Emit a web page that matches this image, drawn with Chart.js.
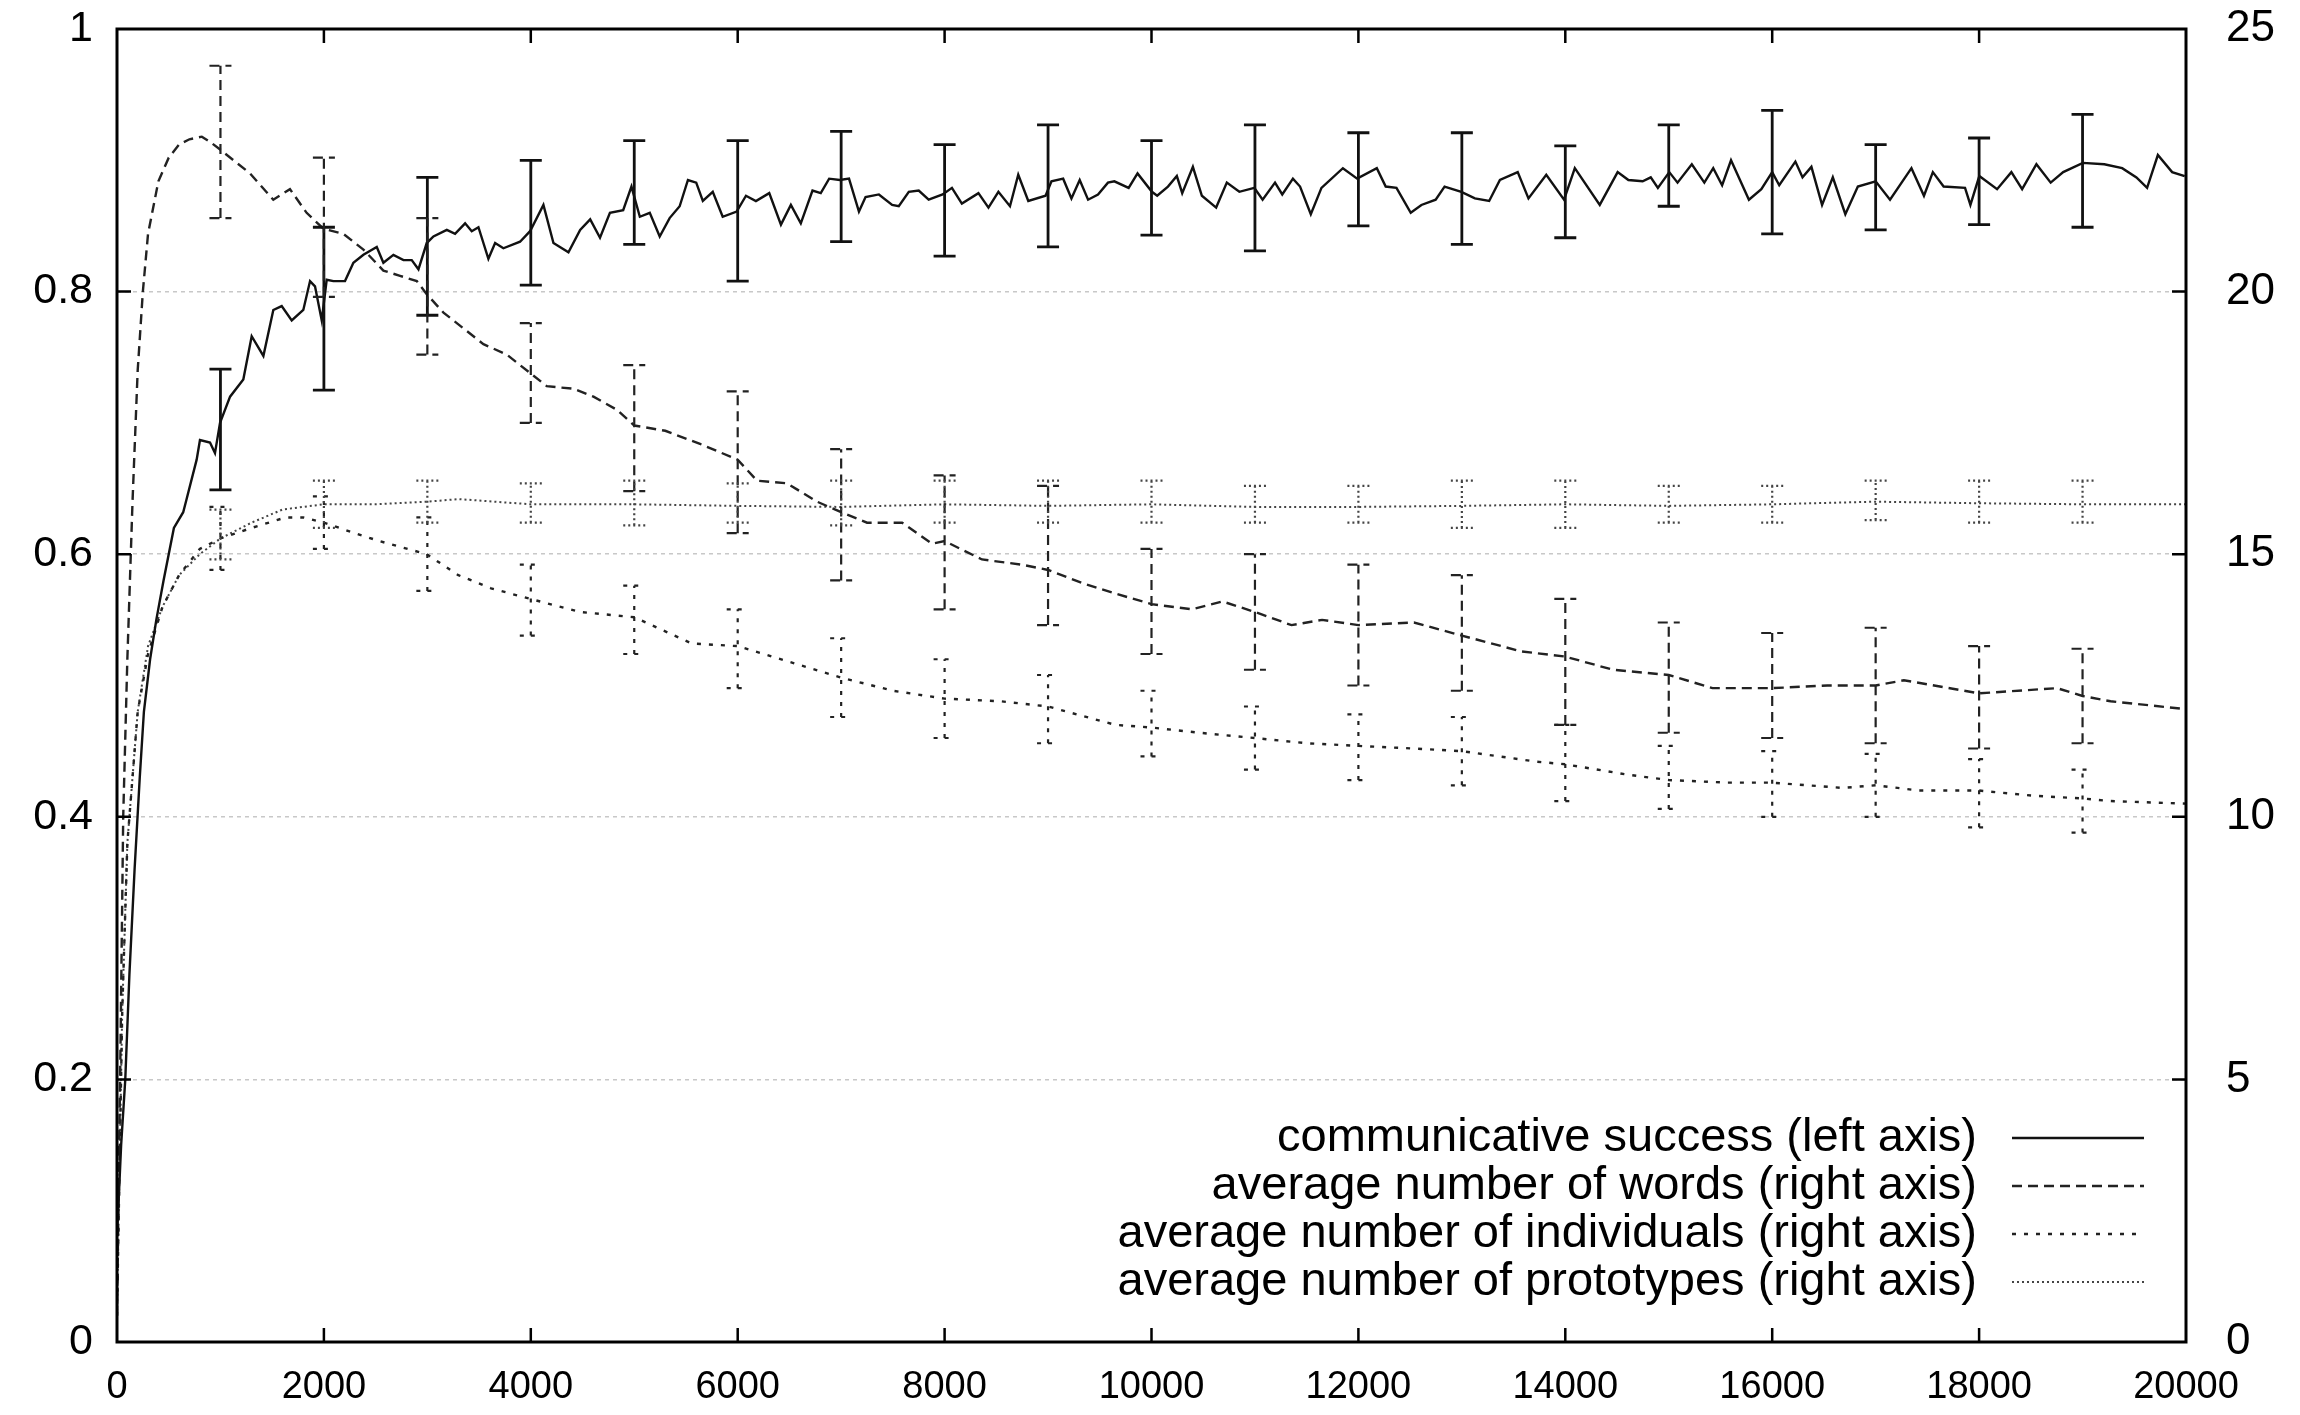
<!DOCTYPE html>
<html>
<head>
<meta charset="utf-8">
<script src="https://cdn.jsdelivr.net/npm/chart.js@4.4.1/dist/chart.umd.min.js"></script>
<style>
  html, body { margin: 0; padding: 0; background: #fff; }
  #wrap { width: 2300px; height: 1415px; position: relative; }
</style>
</head>
<body>
<div id="wrap"><canvas id="c"></canvas></div>
<script>
// ---------------- DATA ----------------
const xTickValues = [0, 2000, 4000, 6000, 8000, 10000, 12000, 14000, 16000, 18000, 20000];
const leftTickLabels = ['0', '0.2', '0.4', '0.6', '0.8', '1'];
const rightTickLabels = ['0', '5', '10', '15', '20', '25'];

const seriesNames = [
  'communicative success (left axis)',
  'average number of words (right axis)',
  'average number of individuals (right axis)',
  'average number of prototypes (right axis)'
];

// communicative success (left axis)
const successX = [0, 40, 80, 120, 170, 220, 260, 320, 380, 450, 550, 640, 673, 770, 802, 899, 947, 996, 1093, 1221,
  1302, 1415, 1511, 1592, 1689, 1801, 1866, 1914, 1979, 2027, 2092, 2204, 2285, 2382, 2511, 2575, 2672, 2769, 2849, 2914,
  2994, 3059, 3188, 3268, 3365, 3429, 3494, 3590, 3655, 3735, 3896, 3993, 4122, 4219, 4364, 4477, 4574, 4669, 4765, 4893,
  4973, 5054, 5150, 5246, 5342, 5439, 5519, 5599, 5663, 5759, 5855, 5990, 6080, 6176, 6305, 6418, 6514, 6610, 6723, 6803,
  6884, 6987, 7076, 7172, 7236, 7365, 7493, 7557, 7654, 7750, 7846, 7981, 8071, 8167, 8327, 8424, 8520, 8632, 8712, 8809,
  8976, 9033, 9146, 9226, 9306, 9387, 9483, 9579, 9641, 9779, 9865, 10004, 10055, 10159, 10245, 10297, 10400, 10487, 10625, 10728,
  10849, 10994, 11074, 11194, 11264, 11367, 11436, 11540, 11643, 11850, 11988, 12178, 12264, 12368, 12506, 12609, 12747, 12833, 12995, 13126,
  13264, 13368, 13540, 13644, 13816, 13988, 14092, 14333, 14506, 14610, 14748, 14826, 14895, 15005, 15085, 15223, 15344, 15430, 15516, 15602,
  15775, 15895, 16000, 16068, 16224, 16293, 16379, 16482, 16586, 16707, 16828, 17000, 17139, 17346, 17467, 17553, 17657, 17864, 17916, 18002,
  18174, 18312, 18416, 18554, 18692, 18813, 19003, 19210, 19383, 19521, 19624, 19728, 19866, 19987];
const successY = [0.08, 0.15, 0.20, 0.28, 0.36, 0.43, 0.48, 0.52, 0.55, 0.58, 0.62, 0.632, 0.642, 0.672, 0.687, 0.685, 0.677, 0.700, 0.720, 0.733,
  0.766, 0.751, 0.786, 0.789, 0.778, 0.786, 0.808, 0.804, 0.778, 0.809, 0.808, 0.808, 0.822, 0.828, 0.834, 0.822, 0.828, 0.824, 0.824, 0.817,
  0.837, 0.842, 0.847, 0.844, 0.852, 0.846, 0.849, 0.825, 0.837, 0.833, 0.838, 0.846, 0.866, 0.837, 0.830, 0.847, 0.855, 0.841, 0.860, 0.862,
  0.880, 0.857, 0.860, 0.842, 0.856, 0.865, 0.885, 0.883, 0.869, 0.876, 0.857, 0.861, 0.873, 0.869, 0.875, 0.851, 0.866, 0.852, 0.877, 0.875,
  0.886, 0.885, 0.886, 0.861, 0.872, 0.874, 0.866, 0.865, 0.876, 0.877, 0.870, 0.874, 0.879, 0.867, 0.875, 0.864, 0.876, 0.865, 0.889, 0.869,
  0.873, 0.884, 0.886, 0.871, 0.885, 0.870, 0.874, 0.883, 0.884, 0.879, 0.890, 0.876, 0.873, 0.880, 0.888, 0.875, 0.895, 0.873, 0.864, 0.883,
  0.876, 0.879, 0.870, 0.883, 0.874, 0.886, 0.880, 0.859, 0.879, 0.894, 0.886, 0.894, 0.880, 0.879, 0.860, 0.866, 0.870, 0.880, 0.876, 0.871,
  0.869, 0.885, 0.891, 0.871, 0.889, 0.870, 0.894, 0.866, 0.891, 0.885, 0.884, 0.887, 0.879, 0.891, 0.883, 0.897, 0.883, 0.894, 0.881, 0.900,
  0.870, 0.878, 0.891, 0.881, 0.899, 0.887, 0.895, 0.866, 0.887, 0.859, 0.880, 0.884, 0.870, 0.894, 0.873, 0.891, 0.880, 0.879, 0.866, 0.888,
  0.878, 0.891, 0.878, 0.897, 0.883, 0.891, 0.898, 0.897, 0.894, 0.887, 0.879, 0.904, 0.891, 0.888];

// average number of words (right axis)
const wordsX = [0, 30, 60, 100, 150, 200, 250, 300, 400, 500, 600, 700, 820, 900, 1000, 1286, 1511, 1672, 1833, 1994,
  2188, 2382, 2575, 2736, 2898, 2994, 3156, 3381, 3542, 3768, 3993, 4154, 4412, 4606, 4832, 5000, 5300, 5636, 6000, 6187,
  6477, 6767, 7000, 7250, 7589, 7879, 8000, 8361, 8750, 9000, 9330, 9650, 10000, 10391, 10687, 11000, 11353, 11649, 12000, 12537,
  13000, 13573, 14000, 14461, 15000, 15423, 16000, 16533, 17000, 17273, 18000, 18753, 19000, 19271, 20000];
const wordsY = [0.5, 5, 10, 13, 16, 18.5, 20, 21.1, 22.1, 22.55, 22.8, 22.9, 22.95, 22.85, 22.7, 22.25, 21.75, 21.95, 21.5, 21.2,
  21.1, 20.8, 20.4, 20.3, 20.2, 19.95, 19.6, 19.25, 19.0, 18.8, 18.45, 18.2, 18.15, 18.0, 17.75, 17.45, 17.35, 17.1, 16.8, 16.4,
  16.35, 16.0, 15.8, 15.6, 15.6, 15.2, 15.25, 14.9, 14.8, 14.7, 14.45, 14.25, 14.05, 13.95, 14.1, 13.9, 13.65, 13.75, 13.65, 13.7,
  13.45, 13.15, 13.05, 12.8, 12.7, 12.45, 12.45, 12.5, 12.5, 12.6, 12.35, 12.45, 12.3, 12.2, 12.05];

// average number of individuals (right axis)
const indivX = [0, 50, 100, 200, 300, 440, 600, 800, 1000, 1300, 1630, 1800, 2000, 2300, 2536, 2994, 3300, 3616, 3993, 4477,
  5000, 5556, 6000, 6500, 7000, 7500, 8000, 8541, 9000, 9651, 10000, 10465, 11000, 11501, 12000, 12537, 13000, 13721, 14000, 14609,
  15000, 15571, 16000, 16681, 17000, 17421, 18000, 18531, 19000, 19271, 20000];
const indivY = [0.5, 6.25, 9.5, 12, 13.1, 14, 14.6, 15.1, 15.3, 15.5, 15.7, 15.7, 15.6, 15.4, 15.25, 15.0, 14.6, 14.35, 14.15, 13.9,
  13.8, 13.3, 13.25, 12.95, 12.65, 12.4, 12.25, 12.2, 12.1, 11.75, 11.7, 11.6, 11.5, 11.4, 11.35, 11.3, 11.25, 11.05, 11.0, 10.8,
  10.7, 10.65, 10.65, 10.55, 10.6, 10.5, 10.5, 10.4, 10.35, 10.3, 10.25];

// average number of prototypes (right axis)
const protoX = [0, 50, 100, 200, 300, 440, 600, 800, 1000, 1300, 1600, 2000, 2500, 3000, 3300, 4000, 5000, 6000, 7000, 8000,
  9000, 10000, 11000, 12000, 13000, 14000, 15000, 16000, 17000, 18000, 19000, 20000];
const protoY = [0.5, 6.25, 9.5, 12, 13.25, 14, 14.6, 15.0, 15.3, 15.6, 15.85, 15.95, 15.95, 16.0, 16.05, 15.95, 15.95, 15.92, 15.9, 15.95,
  15.92, 15.95, 15.9, 15.9, 15.92, 15.95, 15.92, 15.95, 16.0, 15.97, 15.95, 15.95];

// error bars (shared x positions)
const errX = [1000, 2000, 3000, 4000, 5000, 6000, 7000, 8000, 9000, 10000, 11000, 12000, 13000, 14000, 15000, 16000, 17000, 18000, 19000];
const successLo = [0.649, 0.725, 0.782, 0.805, 0.836, 0.808, 0.838, 0.827, 0.834, 0.843, 0.831, 0.850, 0.836, 0.841, 0.865, 0.844, 0.847, 0.851, 0.849];
const successHi = [0.741, 0.849, 0.887, 0.900, 0.915, 0.915, 0.922, 0.912, 0.927, 0.915, 0.927, 0.921, 0.921, 0.911, 0.927, 0.938, 0.912, 0.917, 0.935];
const wordsLo = [21.4, 19.9, 18.8, 17.5, 16.2, 15.4, 14.5, 13.95, 13.65, 13.1, 12.8, 12.5, 12.4, 11.75, 11.6, 11.5, 11.4, 11.3, 11.4];
const wordsHi = [24.3, 22.55, 21.4, 19.4, 18.6, 18.1, 17.0, 16.5, 16.3, 15.1, 15.0, 14.8, 14.6, 14.15, 13.7, 13.5, 13.6, 13.25, 13.2];
const indivLo = [14.7, 15.1, 14.3, 13.45, 13.1, 12.45, 11.9, 11.5, 11.4, 11.15, 10.9, 10.7, 10.6, 10.3, 10.15, 10.0, 10.0, 9.8, 9.7];
const indivHi = [15.9, 16.1, 15.7, 14.8, 14.4, 13.95, 13.4, 13.0, 12.7, 12.4, 12.1, 11.95, 11.9, 11.75, 11.35, 11.25, 11.2, 11.1, 10.9];
const protoLo = [14.9, 15.5, 15.6, 15.6, 15.55, 15.6, 15.55, 15.6, 15.6, 15.6, 15.6, 15.6, 15.5, 15.5, 15.6, 15.6, 15.65, 15.6, 15.6];
const protoHi = [15.85, 16.4, 16.4, 16.35, 16.4, 16.35, 16.4, 16.4, 16.4, 16.4, 16.3, 16.3, 16.4, 16.4, 16.3, 16.3, 16.4, 16.4, 16.4];

// ---------------- STYLE ----------------
const FONT = '"Liberation Sans", Arial, Helvetica, sans-serif';
const styles = [
  { color: '#111', width: 2.4, dash: [], errDash: [], axis: 'y' },
  { color: '#222', width: 2.4, dash: [10, 6], errDash: [10, 6], axis: 'y2' },
  { color: '#222', width: 2.4, dash: [4, 8], errDash: [4, 7], axis: 'y2' },
  { color: '#444', width: 2.0, dash: [2, 3], errDash: [2, 3], axis: 'y2' }
];

function pts(xs, ys) { return xs.map((x, i) => ({ x: x, y: ys[i] })); }

const datasets = [
  [successX, successY], [wordsX, wordsY], [indivX, indivY], [protoX, protoY]
].map((s, i) => ({
  label: seriesNames[i],
  data: pts(s[0], s[1]),
  yAxisID: styles[i].axis,
  borderColor: styles[i].color,
  borderWidth: styles[i].width,
  borderDash: styles[i].dash,
  pointRadius: 0,
  tension: 0,
  fill: false
}));

const errSets = [
  [successLo, successHi], [wordsLo, wordsHi], [indivLo, indivHi], [protoLo, protoHi]
];

const overlay = {
  id: 'overlay',
  afterDatasetsDraw(chart) {
    const ctx = chart.ctx;
    const { x } = chart.scales;
    const a = chart.chartArea;
    ctx.save();
    // error bars
    errSets.forEach((es, k) => {
      const sc = chart.scales[styles[k].axis];
      ctx.strokeStyle = styles[k].color;
      ctx.lineWidth = k === 0 ? 2.8 : 2.2;
      ctx.setLineDash(styles[k].errDash);
      errX.forEach((xv, i) => {
        const px = x.getPixelForValue(xv);
        const lo = sc.getPixelForValue(es[0][i]);
        const hi = sc.getPixelForValue(es[1][i]);
        ctx.beginPath();
        ctx.moveTo(px, lo); ctx.lineTo(px, hi);
        ctx.moveTo(px - 11, lo); ctx.lineTo(px + 11, lo);
        ctx.moveTo(px - 11, hi); ctx.lineTo(px + 11, hi);
        ctx.stroke();
      });
    });
    ctx.setLineDash([]);
    // frame
    ctx.strokeStyle = '#000';
    ctx.lineWidth = 3;
    ctx.strokeRect(a.left, a.top, a.right - a.left, a.bottom - a.top);
    // inward ticks
    const tl = 14;
    ctx.lineWidth = 2.5;
    ctx.beginPath();
    xTickValues.forEach(v => {
      const px = x.getPixelForValue(v);
      if (px <= a.left + 1 || px >= a.right - 1) return;
      ctx.moveTo(px, a.bottom); ctx.lineTo(px, a.bottom - tl);
      ctx.moveTo(px, a.top); ctx.lineTo(px, a.top + tl);
    });
    chart.scales.y.ticks.forEach(t => {
      const py = chart.scales.y.getPixelForValue(t.value);
      if (py <= a.top + 1 || py >= a.bottom - 1) return;
      ctx.moveTo(a.left, py); ctx.lineTo(a.left + tl, py);
    });
    chart.scales.y2.ticks.forEach(t => {
      const py = chart.scales.y2.getPixelForValue(t.value);
      if (py <= a.top + 1 || py >= a.bottom - 1) return;
      ctx.moveTo(a.right, py); ctx.lineTo(a.right - tl, py);
    });
    ctx.stroke();
    // legend
    const textRight = a.right - 209;
    const sx0 = a.right - 174, sx1 = a.right - 42;
    const y0 = a.bottom - 204, dy = 48;
    ctx.font = '47px ' + FONT;
    ctx.fillStyle = '#000';
    ctx.textAlign = 'right';
    ctx.textBaseline = 'middle';
    seriesNames.forEach((name, i) => {
      const yy = y0 + i * dy;
      ctx.fillText(name, textRight, yy);
      ctx.strokeStyle = styles[i].color;
      ctx.lineWidth = styles[i].width;
      ctx.setLineDash(styles[i].dash);
      ctx.beginPath();
      ctx.moveTo(sx0, yy); ctx.lineTo(sx1, yy);
      ctx.stroke();
    });
    ctx.restore();
  }
};

function fixVertical(w) {
  return s => { s.width = w; s.paddingTop = 0; s.paddingBottom = 0; };
}

new Chart(document.getElementById('c'), {
  type: 'line',
  data: { datasets },
  options: {
    responsive: true,
    maintainAspectRatio: false,
    animation: false,
    events: [],
    layout: { padding: { top: 29, left: 0, right: 0, bottom: 0 } },
    plugins: { legend: { display: false }, tooltip: { enabled: false } },
    scales: {
      x: {
        type: 'linear', min: 0, max: 20000,
        afterBuildTicks: s => { s.ticks = xTickValues.map(v => ({ value: v })); },
        afterFit: s => { s.height = 73; s.paddingLeft = 0; s.paddingRight = 0; },
        grid: { display: false, drawTicks: false },
        border: { display: false },
        ticks: {
          color: '#000', font: { size: 38, family: FONT }, padding: 23, maxRotation: 0, autoSkip: false,
          callback: (v) => String(v)
        }
      },
      y: {
        position: 'left', min: 0, max: 1,
        afterBuildTicks: s => { s.ticks = leftTickLabels.map(l => ({ value: parseFloat(l) })); },
        afterFit: fixVertical(117),
        grid: {
          drawTicks: false, lineWidth: 1.5,
          color: c => (c.tick && c.tick.value > 0.001 && c.tick.value < 0.999) ? '#c8c8c8' : 'rgba(0,0,0,0)'
        },
        border: { display: false, dash: [4, 4] },
        ticks: {
          color: '#000', font: { size: 43, family: FONT }, padding: 24,
          callback: (v, i) => leftTickLabels[i]
        }
      },
      y2: {
        position: 'right', min: 0, max: 25,
        afterBuildTicks: s => { s.ticks = rightTickLabels.map(l => ({ value: parseFloat(l) })); },
        afterFit: fixVertical(114),
        grid: { display: false, drawTicks: false },
        border: { display: false },
        ticks: {
          color: '#000', font: { size: 44, family: FONT }, padding: 40,
          callback: (v, i) => rightTickLabels[i]
        }
      }
    }
  },
  plugins: [overlay]
});
</script>
</body>
</html>
